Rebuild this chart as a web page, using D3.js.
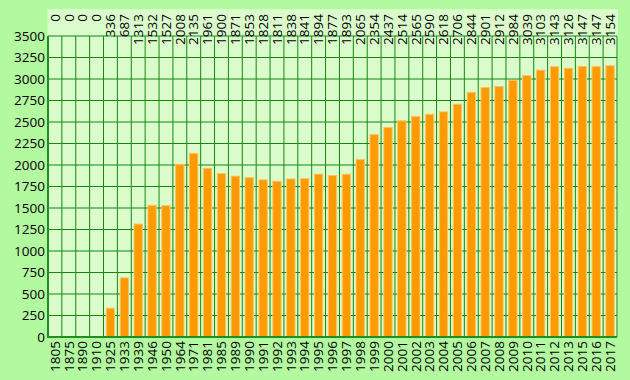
<!DOCTYPE html>
<html>
<head>
<meta charset="utf-8">
<script src="https://cdn.jsdelivr.net/npm/d3@7"></script>
<style>
  body { margin: 0; background: #b2f9a0; }
  svg { display: block; font-family: "Open Sans", sans-serif; }
</style>
</head>
<body>
<div id="chart-area"></div>
<script>
// data
const years = ["1805","1875","1890","1910","1925","1933","1939","1946","1950","1964",
    "1971","1981","1985","1989","1990","1991","1992","1993","1994","1995",
    "1996","1997","1998","1999","2000","2001","2002","2003","2004","2005",
    "2006","2007","2008","2009","2010","2011","2012","2013","2015","2016","2017"];
const values = [0,0,0,0,336,687,1313,1532,1527,2008,
    2135,1961,1900,1871,1853,1828,1811,1838,1841,1894,
    1877,1893,2065,2354,2437,2514,2565,2590,2618,2706,
    2844,2901,2912,2984,3039,3103,3143,3126,3147,3147,3154];
const yTicks = d3.range(0, 3501, 250);

const data = years.map((y, i) => ({ year: y, value: values[i] }));

const W = 630, H = 380;
const margin = { left: 48, right: 13, top: 36, bottom: 43 };
const fontSize = 13.5;

const svg = d3.select("#chart-area")
    .append("svg")
    .attr("width", W)
    .attr("height", H);

// pale panel behind plot + value labels
svg.append("rect")
    .attr("x", 47.5)
    .attr("y", 9)
    .attr("width", W - margin.right + 1 - 47.5)
    .attr("height", H - margin.bottom - 9)
    .attr("fill", "#dbfdcc");

/* Scales */
const x = d3.scaleBand()
    .domain(years)
    .range([margin.left, W - margin.right])
    .paddingInner(0.4)
    .paddingOuter(0.2);

const y = d3.scaleLinear()
    .domain([0, 3500])
    .range([H - margin.bottom, margin.top]);

const step = x.step();
const gridStart = d => x(d) - step * 0.2;

/* Grid */
svg.append("g")
    .selectAll("line")
    .data(yTicks)
    .join("line")
    .attr("x1", margin.left)
    .attr("x2", W - margin.right)
    .attr("y1", d => y(d))
    .attr("y2", d => y(d))
    .attr("stroke", "#158515")
    .attr("stroke-width", 1);

svg.append("g")
    .selectAll("line")
    .data(years.slice(1).concat(["end"]))
    .join("line")
    .attr("x1", d => d === "end" ? W - margin.right : gridStart(d))
    .attr("x2", d => d === "end" ? W - margin.right : gridStart(d))
    .attr("y1", margin.top)
    .attr("y2", H - margin.bottom)
    .attr("stroke", "#158515")
    .attr("stroke-width", 1);

/* Bars */
svg.append("g")
    .selectAll("rect")
    .data(data.filter(d => d.value > 0))
    .join("rect")
    .attr("x", d => x(d.year))
    .attr("y", d => y(d.value))
    .attr("width", x.bandwidth())
    .attr("height", d => y(0) - y(d.value))
    .attr("fill", "#ff9a00")
    .attr("stroke", "#ffc45e")
    .attr("stroke-width", 1);

/* Axis lines */
svg.append("line")
    .attr("x1", margin.left).attr("x2", margin.left)
    .attr("y1", margin.top).attr("y2", H - margin.bottom + 1)
    .attr("stroke", "#1f8f1f").attr("stroke-width", 2);

svg.append("line")
    .attr("x1", margin.left).attr("x2", W - margin.right)
    .attr("y1", H - margin.bottom).attr("y2", H - margin.bottom)
    .attr("stroke", "#1f8f1f").attr("stroke-width", 2);

/* Y labels */
const yAxis = d3.axisLeft(y)
    .tickValues(yTicks)
    .tickFormat(d3.format("d"))
    .tickSize(0)
    .tickPadding(3);

svg.append("g")
    .attr("transform", `translate(${margin.left},0)`)
    .call(yAxis)
    .call(g => g.select(".domain").remove())
    .selectAll("text")
    .attr("font-size", fontSize)
    .attr("font-family", "Open Sans, sans-serif")
    .attr("fill", "#000");

/* X labels */
svg.append("g")
    .selectAll("text")
    .data(data)
    .join("text")
    .attr("transform", d => `translate(${x(d.year) + x.bandwidth() / 2},${H - margin.bottom + 4}) rotate(-90)`)
    .attr("dy", "0.35em")
    .attr("text-anchor", "end")
    .attr("font-size", fontSize)
    .attr("fill", "#000")
    .text(d => d.year);

/* Value labels */
svg.append("g")
    .selectAll("text")
    .data(data)
    .join("text")
    .attr("transform", d => `translate(${x(d.year) + x.bandwidth() / 2},14) rotate(-90)`)
    .attr("dy", "0.35em")
    .attr("text-anchor", "end")
    .attr("font-size", fontSize)
    .attr("fill", "#000")
    .text(d => d.value);
</script>
</body>
</html>
